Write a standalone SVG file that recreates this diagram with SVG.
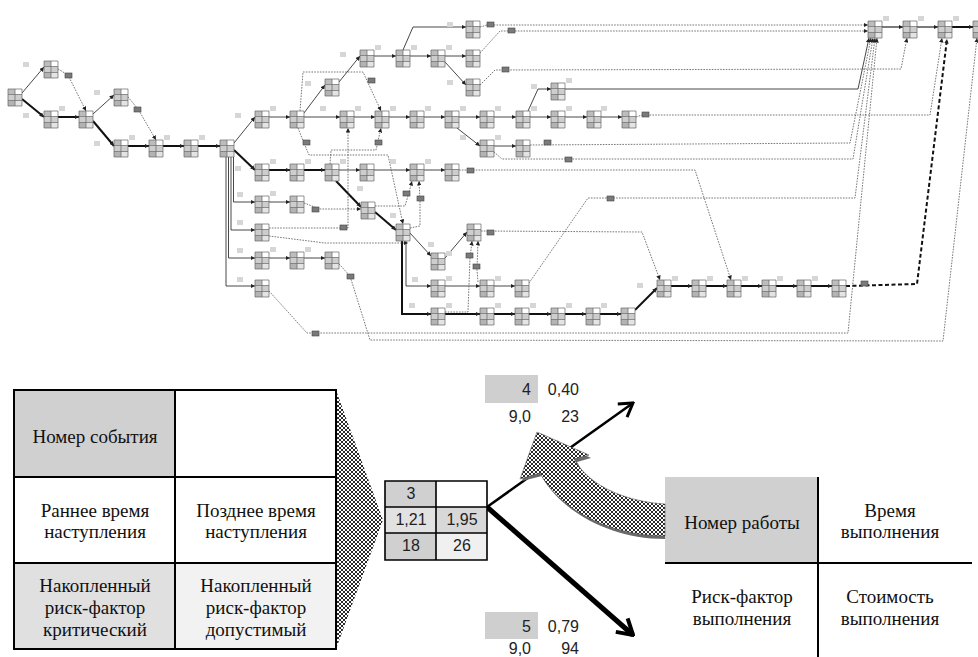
<svg xmlns="http://www.w3.org/2000/svg" xmlns:xlink="http://www.w3.org/1999/xlink" width="978" height="657" viewBox="0 0 978 657">
<style>
.t{fill:none;stroke:#333;stroke-width:0.9;marker-end:url(#a)}
.k{fill:none;stroke:#111;stroke-width:2;marker-end:url(#a)}
.d{fill:none;stroke:#555;stroke-width:0.8;stroke-dasharray:1.6 1.2;marker-end:url(#a)}
.kd{fill:none;stroke:#111;stroke-width:2;stroke-dasharray:4 2.5;marker-end:url(#a)}
.db{fill:#7a7a7a;stroke:#444;stroke-width:0.6}
.lb{fill:#d6d6d6}
.sf{font-family:"Liberation Serif","Times New Roman",serif;font-size:19px;fill:#111;text-anchor:middle}
.sn{font-family:"Liberation Sans",Arial,sans-serif;font-size:16px;fill:#222}
.grid{fill:none;stroke:#000;stroke-width:2}
</style>
<defs>
<marker id="a" viewBox="0 0 6 6" refX="6" refY="3" markerWidth="4.5" markerHeight="4.5" markerUnits="userSpaceOnUse" orient="auto"><path d="M0,0 L6,3 L0,6 z" fill="#222"/></marker>
<marker id="v1" viewBox="-15 -10 17 20" refX="0" refY="0" markerWidth="17" markerHeight="20" markerUnits="userSpaceOnUse" orient="auto"><path d="M-13,-8 L0,0 L-13,8" fill="none" stroke="#000" stroke-width="3"/></marker>
<marker id="v2" viewBox="-17 -11 19 22" refX="0" refY="0" markerWidth="19" markerHeight="22" markerUnits="userSpaceOnUse" orient="auto"><path d="M-15,-9 L0,0 L-15,9" fill="none" stroke="#000" stroke-width="4"/></marker>
<pattern id="hatch" width="4" height="4" patternUnits="userSpaceOnUse"><rect width="4" height="4" fill="#fff"/><path d="M0,0 L4,4 M4,0 L0,4" stroke="#2a2a2a" stroke-width="1"/></pattern>
<symbol id="nd" viewBox="0 0 14 17" width="14" height="17" overflow="visible">
<rect x="0" y="0" width="7" height="5.5" fill="#bdbdbd"/>
<rect x="7" y="0" width="7" height="5.5" fill="#fff"/>
<rect x="0" y="5.5" width="14" height="6" fill="#cdcdcd"/>
<rect x="0" y="11.5" width="7" height="5.5" fill="#b3b3b3"/>
<rect x="7" y="11.5" width="7" height="5.5" fill="#e4e4e4"/>
<path d="M0,0 H14 V17 H0 Z M7,0 V17 M0,5.5 H14 M0,11.5 H14" fill="none" stroke="#666" stroke-width="0.7"/>
</symbol>
</defs>
<rect width="978" height="657" fill="#fff"/>

<g id="connectors">
<path class="t" d="M22,93 L44,67"/>
<path class="k" d="M22,99 L44,117"/>
<path class="k" d="M58,117 L79,117"/>
<path class="t" d="M93,114 L114,95"/>
<path class="k" d="M93,121 L114,146"/>
<path class="k" d="M128,146 L149,146"/>
<path class="k" d="M163,146 L184,146"/>
<path class="k" d="M198,146 L220,146"/>
<path class="t" d="M234,143 L255,117"/>
<path class="k" d="M234,150 L255,170"/>
<path class="t" d="M269,117 L290,117"/>
<path class="t" d="M304,113 L325,85"/>
<path class="t" d="M304,117 L340,117"/>
<path class="t" d="M339,82 L360,56"/>
<path class="t" d="M374,56 L396,56"/>
<path class="t" d="M410,56 L431,56"/>
<path class="t" d="M445,56 L466,56"/>
<path class="t" d="M403,50 L413,27 L466,27"/>
<path class="t" d="M445,62 L466,85"/>
<path class="t" d="M354,117 L375,117"/>
<path class="t" d="M389,117 L410,117"/>
<path class="t" d="M424,117 L445,117"/>
<path class="t" d="M459,117 L480,117"/>
<path class="t" d="M494,117 L516,117"/>
<path class="t" d="M530,117 L551,117"/>
<path class="t" d="M565,117 L587,117"/>
<path class="t" d="M601,117 L622,117"/>
<path class="t" d="M457,128 L480,146"/>
<path class="t" d="M494,146 L516,146"/>
<path class="t" d="M528,111 L538,89 L551,89"/>
<path class="t" d="M565,89 L858,89 L869,38"/>
<path class="k" d="M269,170 L290,170"/>
<path class="k" d="M304,170 L325,170"/>
<path class="t" d="M339,170 L360,170"/>
<path class="t" d="M374,170 L410,170"/>
<path class="t" d="M424,170 L445,170"/>
<path class="k" d="M336,181 L361,207"/>
<path class="k" d="M375,212 L396,230"/>
<path class="t" d="M410,233 L431,256"/>
<path class="t" d="M445,258 L467,232"/>
<path class="t" d="M406,241 L406,286 L431,286"/>
<path class="k" d="M402,241 L402,314 L431,314"/>
<path class="t" d="M445,286 L480,286"/>
<path class="t" d="M494,286 L515,286"/>
<path class="k" d="M445,314 L480,314"/>
<path class="k" d="M494,314 L515,314"/>
<path class="k" d="M529,314 L551,314"/>
<path class="k" d="M565,314 L586,314"/>
<path class="k" d="M600,314 L621,314"/>
<path class="k" d="M635,310 L657,288"/>
<path class="k" d="M671,286 L692,286"/>
<path class="k" d="M706,286 L727,286"/>
<path class="k" d="M741,286 L762,286"/>
<path class="k" d="M776,286 L797,286"/>
<path class="k" d="M811,286 L832,286"/>
<path class="t" d="M269,202 L290,202"/>
<path class="t" d="M269,258 L290,258"/>
<path class="t" d="M304,258 L325,258"/>
<path class="t" d="M226,157 L226,286 L255,286"/>
<path class="t" d="M228.5,157 L228.5,258 L255,258"/>
<path class="t" d="M231,157 L231,230 L255,230"/>
<path class="t" d="M233.5,157 L233.5,202 L255,202"/>
<path class="t" style="stroke-width:1.3" d="M882,27 L903,27"/>
<path class="t" style="stroke-width:1.3" d="M917,27 L938,27"/>
<path class="k" d="M952,27 L973,27"/>

<path class="d" d="M58,69 L68,75 L86,111"/>
<path class="d" d="M128,97 L138,109 L156,140"/>
<path class="d" d="M300,111 L303,72 L363,72 L381,111"/>
<path class="d" d="M298,128 L304,143 L309,155 L388,155 L403,224"/>
<path class="d" d="M330,164 L331,150 L376,150 L381,128"/>
<path class="d" d="M269,228 L348,228 L348,128"/>
<path class="d" d="M304,203 L320,209 L361,209"/>
<path class="d" d="M375,206 L405,206 L408,196 L412,181"/>
<path class="d" d="M410,228 L420,226 L420,200 L419,181"/>
<path class="d" d="M459,170 L695,170 L731,280"/>
<path class="d" d="M530,145 L850,143 L871,38"/>
<path class="d" d="M494,152 L502,159 L853,159 L873,38"/>
<path class="d" d="M480,27 L487,25 L868,25"/>
<path class="d" d="M480,53 L500,31 L868,31"/>
<path class="d" d="M480,85 L495,70 L901,69 L907,38"/>
<path class="d" d="M636,117 L642,115 L930,115 L942,38"/>
<path class="d" d="M529,283 L588,198 L855,198 L875,38"/>
<path class="d" d="M481,231 L642,232 L660,280"/>
<path class="d" d="M269,291 L307,333 L848,333 L877,38"/>
<path class="d" d="M339,264 L350,276 L370,340 L943,341 L977,38"/>
<path class="d" d="M269,236 L325,243 L408,243"/>
<path class="d" d="M445,312 L468,312 L470,258 L472,241"/>
<path class="d" d="M478,282 L477,270 L478,241"/>
<path class="kd" d="M846,286 L917,284 L947,39"/>
</g>

<g id="dummies">
<rect class="db" x="65" y="73" width="7" height="5"/>
<rect class="db" x="134" y="107" width="7" height="5"/>
<rect class="db" x="368" y="78" width="7" height="5"/>
<rect class="db" x="303" y="140" width="7" height="5"/>
<rect class="db" x="375" y="140" width="7" height="5"/>
<rect class="db" x="340" y="225" width="7" height="5"/>
<rect class="db" x="312" y="207" width="7" height="5"/>
<rect class="db" x="403" y="191" width="7" height="5"/>
<rect class="db" x="417" y="196" width="7" height="5"/>
<rect class="db" x="467" y="168" width="7" height="5"/>
<rect class="db" x="544" y="140" width="7" height="5"/>
<rect class="db" x="565" y="157" width="7" height="5"/>
<rect class="db" x="487" y="22" width="7" height="5"/>
<rect class="db" x="508" y="28" width="7" height="5"/>
<rect class="db" x="502" y="67" width="7" height="5"/>
<rect class="db" x="642" y="112" width="7" height="5"/>
<rect class="db" x="607" y="196" width="7" height="5"/>
<rect class="db" x="487" y="230" width="7" height="5"/>
<rect class="db" x="312" y="331" width="7" height="5"/>
<rect class="db" x="347" y="274" width="7" height="5"/>
<rect class="db" x="466" y="253" width="7" height="5"/>
<rect class="db" x="473" y="264" width="7" height="5"/>
<rect class="db" x="861" y="281" width="7" height="5"/>
</g>

<g id="work-labels">
<rect class="lb" x="23" y="62" width="6" height="5"/><rect class="lb" x="23" y="113" width="6" height="5"/>
<rect class="lb" x="59" y="106" width="6" height="5"/><rect class="lb" x="94" y="90" width="6" height="5"/>
<rect class="lb" x="94" y="141" width="6" height="5"/><rect class="lb" x="129" y="135" width="6" height="5"/>
<rect class="lb" x="164" y="135" width="6" height="5"/><rect class="lb" x="199" y="135" width="6" height="5"/>
<rect class="lb" x="235" y="113" width="6" height="5"/><rect class="lb" x="235" y="166" width="6" height="5"/>
<rect class="lb" x="270" y="106" width="6" height="5"/><rect class="lb" x="305" y="81" width="6" height="5"/>
<rect class="lb" x="320" y="106" width="6" height="5"/><rect class="lb" x="340" y="52" width="6" height="5"/>
<rect class="lb" x="375" y="45" width="6" height="5"/><rect class="lb" x="411" y="45" width="6" height="5"/>
<rect class="lb" x="446" y="45" width="6" height="5"/><rect class="lb" x="447" y="22" width="6" height="5"/>
<rect class="lb" x="447" y="80" width="6" height="5"/><rect class="lb" x="355" y="106" width="6" height="5"/>
<rect class="lb" x="390" y="106" width="6" height="5"/><rect class="lb" x="425" y="106" width="6" height="5"/>
<rect class="lb" x="460" y="106" width="6" height="5"/><rect class="lb" x="495" y="106" width="6" height="5"/>
<rect class="lb" x="531" y="84" width="6" height="5"/><rect class="lb" x="531" y="106" width="6" height="5"/>
<rect class="lb" x="566" y="106" width="6" height="5"/><rect class="lb" x="601" y="106" width="6" height="5"/>
<rect class="lb" x="566" y="78" width="6" height="5"/><rect class="lb" x="460" y="135" width="6" height="5"/>
<rect class="lb" x="495" y="135" width="6" height="5"/><rect class="lb" x="270" y="159" width="6" height="5"/>
<rect class="lb" x="305" y="159" width="6" height="5"/><rect class="lb" x="340" y="159" width="6" height="5"/>
<rect class="lb" x="390" y="159" width="6" height="5"/><rect class="lb" x="425" y="159" width="6" height="5"/>
<rect class="lb" x="270" y="191" width="6" height="5"/><rect class="lb" x="357" y="186" width="6" height="5"/>
<rect class="lb" x="390" y="213" width="6" height="5"/><rect class="lb" x="428" y="242" width="6" height="5"/>
<rect class="lb" x="446" y="251" width="6" height="5"/><rect class="lb" x="237" y="192" width="6" height="5"/>
<rect class="lb" x="237" y="220" width="6" height="5"/><rect class="lb" x="237" y="248" width="6" height="5"/>
<rect class="lb" x="237" y="277" width="6" height="5"/><rect class="lb" x="270" y="247" width="6" height="5"/>
<rect class="lb" x="305" y="247" width="6" height="5"/><rect class="lb" x="412" y="277" width="6" height="5"/>
<rect class="lb" x="446" y="276" width="6" height="5"/><rect class="lb" x="495" y="276" width="6" height="5"/>
<rect class="lb" x="409" y="303" width="6" height="5"/><rect class="lb" x="446" y="303" width="6" height="5"/>
<rect class="lb" x="495" y="303" width="6" height="5"/><rect class="lb" x="530" y="303" width="6" height="5"/>
<rect class="lb" x="566" y="303" width="6" height="5"/><rect class="lb" x="601" y="303" width="6" height="5"/>
<rect class="lb" x="637" y="283" width="6" height="5"/><rect class="lb" x="672" y="276" width="6" height="5"/>
<rect class="lb" x="707" y="276" width="6" height="5"/><rect class="lb" x="742" y="276" width="6" height="5"/>
<rect class="lb" x="777" y="276" width="6" height="5"/><rect class="lb" x="812" y="276" width="6" height="5"/>
<rect class="lb" x="883" y="16" width="6" height="5"/><rect class="lb" x="918" y="16" width="6" height="5"/>
<rect class="lb" x="953" y="16" width="6" height="5"/>
</g>

<g id="n1"><use href="#nd" x="8" y="89"/></g>
<g id="n2"><use href="#nd" x="44" y="61"/></g>
<g id="n3"><use href="#nd" x="44" y="111"/></g>
<g id="n4"><use href="#nd" x="79" y="111"/></g>
<g id="n5"><use href="#nd" x="114" y="89"/></g>
<g id="n6"><use href="#nd" x="114" y="140"/></g>
<g id="n7"><use href="#nd" x="149" y="140"/></g>
<g id="n8"><use href="#nd" x="184" y="140"/></g>
<g id="n9"><use href="#nd" x="220" y="140"/></g>
<g id="n10"><use href="#nd" x="255" y="111"/></g>
<g id="n11"><use href="#nd" x="290" y="111"/></g>
<g id="n12"><use href="#nd" x="325" y="79"/></g>
<g id="n13"><use href="#nd" x="360" y="50"/></g>
<g id="n14"><use href="#nd" x="396" y="50"/></g>
<g id="n15"><use href="#nd" x="431" y="50"/></g>
<g id="n16"><use href="#nd" x="466" y="50"/></g>
<g id="n17"><use href="#nd" x="466" y="21"/></g>
<g id="n18"><use href="#nd" x="466" y="79"/></g>
<g id="n19"><use href="#nd" x="340" y="111"/></g>
<g id="n20"><use href="#nd" x="375" y="111"/></g>
<g id="n21"><use href="#nd" x="410" y="111"/></g>
<g id="n22"><use href="#nd" x="445" y="111"/></g>
<g id="n23"><use href="#nd" x="480" y="111"/></g>
<g id="n24"><use href="#nd" x="516" y="111"/></g>
<g id="n25"><use href="#nd" x="551" y="83"/></g>
<g id="n26"><use href="#nd" x="551" y="111"/></g>
<g id="n27"><use href="#nd" x="587" y="111"/></g>
<g id="n28"><use href="#nd" x="622" y="111"/></g>
<g id="n29"><use href="#nd" x="480" y="140"/></g>
<g id="n30"><use href="#nd" x="516" y="140"/></g>
<g id="n31"><use href="#nd" x="255" y="164"/></g>
<g id="n32"><use href="#nd" x="290" y="164"/></g>
<g id="n33"><use href="#nd" x="325" y="164"/></g>
<g id="n34"><use href="#nd" x="360" y="164"/></g>
<g id="n35"><use href="#nd" x="410" y="164"/></g>
<g id="n36"><use href="#nd" x="445" y="164"/></g>
<g id="n37"><use href="#nd" x="255" y="196"/></g>
<g id="n38"><use href="#nd" x="290" y="196"/></g>
<g id="n39"><use href="#nd" x="361" y="202"/></g>
<g id="n40"><use href="#nd" x="255" y="224"/></g>
<g id="n41"><use href="#nd" x="396" y="224"/></g>
<g id="n42"><use href="#nd" x="467" y="224"/></g>
<g id="n43"><use href="#nd" x="255" y="252"/></g>
<g id="n44"><use href="#nd" x="290" y="252"/></g>
<g id="n45"><use href="#nd" x="325" y="252"/></g>
<g id="n46"><use href="#nd" x="431" y="253"/></g>
<g id="n47"><use href="#nd" x="255" y="280"/></g>
<g id="n48"><use href="#nd" x="431" y="280"/></g>
<g id="n49"><use href="#nd" x="480" y="280"/></g>
<g id="n50"><use href="#nd" x="515" y="280"/></g>
<g id="n51"><use href="#nd" x="431" y="308"/></g>
<g id="n52"><use href="#nd" x="480" y="308"/></g>
<g id="n53"><use href="#nd" x="515" y="308"/></g>
<g id="n54"><use href="#nd" x="551" y="308"/></g>
<g id="n55"><use href="#nd" x="586" y="308"/></g>
<g id="n56"><use href="#nd" x="621" y="308"/></g>
<g id="n57"><use href="#nd" x="657" y="280"/></g>
<g id="n58"><use href="#nd" x="692" y="280"/></g>
<g id="n59"><use href="#nd" x="727" y="280"/></g>
<g id="n60"><use href="#nd" x="762" y="280"/></g>
<g id="n61"><use href="#nd" x="797" y="280"/></g>
<g id="n62"><use href="#nd" x="832" y="280"/></g>
<g id="n63"><use href="#nd" x="868" y="21"/></g>
<g id="n64"><use href="#nd" x="903" y="21"/></g>
<g id="n65"><use href="#nd" x="938" y="21"/></g>
<g id="n66"><use href="#nd" x="973" y="21"/></g>

<g id="legend-event">
<polygon points="336,390 383,520 336,649" fill="url(#hatch)"/>
<rect x="14" y="390" width="161" height="87" fill="#d0d0d0"/>
<rect x="175" y="390" width="161" height="87" fill="#fff"/>
<rect x="14" y="477" width="322" height="86" fill="#fff"/>
<rect x="14" y="563" width="161" height="86" fill="#e0e0e0"/>
<rect x="175" y="563" width="161" height="86" fill="#f2f2f2"/>
<path class="grid" d="M14,390 H336 V649 H14 Z M175,390 V649 M14,477 H336 M14,563 H336"/>
<text class="sf" x="95" y="443">Номер события</text>
<text class="sf" x="95" y="517">Раннее время</text>
<text class="sf" x="95" y="538">наступления</text>
<text class="sf" x="256" y="517">Позднее время</text>
<text class="sf" x="256" y="538">наступления</text>
<text class="sf" x="95" y="592">Накопленный</text>
<text class="sf" x="95" y="614">риск-фактор</text>
<text class="sf" x="95" y="636">критический</text>
<text class="sf" x="256" y="592">Накопленный</text>
<text class="sf" x="256" y="614">риск-фактор</text>
<text class="sf" x="256" y="636">допустимый</text>
</g>

<g id="legend-connectors">
<line x1="487" y1="507" x2="633" y2="403" stroke="#000" stroke-width="2.5" marker-end="url(#v1)"/>
<line x1="487" y1="507" x2="633" y2="635" stroke="#000" stroke-width="5" marker-end="url(#v2)"/>
</g>

<g id="legend-node">
<rect x="385" y="481" width="51" height="26" fill="#d0d0d0"/>
<rect x="436" y="481" width="51" height="26" fill="#fff"/>
<rect x="385" y="507" width="51" height="26" fill="#e2e2e2"/>
<rect x="436" y="507" width="51" height="26" fill="#d8d8d8"/>
<rect x="385" y="533" width="51" height="27" fill="#d0d0d0"/>
<rect x="436" y="533" width="51" height="27" fill="#f0f0f0"/>
<path d="M385,481 H487 V560 H385 Z M436,481 V560 M385,507 H487 M385,533 H487" fill="none" stroke="#000" stroke-width="1.6"/>
<text class="sn" x="411" y="499" text-anchor="middle">3</text>
<text class="sn" x="411" y="525" text-anchor="middle">1,21</text>
<text class="sn" x="462" y="525" text-anchor="middle">1,95</text>
<text class="sn" x="411" y="551" text-anchor="middle">18</text>
<text class="sn" x="462" y="551" text-anchor="middle">26</text>
</g>

<g id="label-work4">
<rect x="485" y="375" width="53" height="28" fill="#cfcfcf"/>
<text class="sn" x="531" y="395" text-anchor="end">4</text>
<text class="sn" x="579" y="395" text-anchor="end">0,40</text>
<text class="sn" x="531" y="422" text-anchor="end">9,0</text>
<text class="sn" x="579" y="422" text-anchor="end">23</text>
</g>

<g id="label-work5">
<rect x="485" y="612" width="53" height="27" fill="#cfcfcf"/>
<text class="sn" x="531" y="632" text-anchor="end">5</text>
<text class="sn" x="579" y="632" text-anchor="end">0,79</text>
<text class="sn" x="531" y="654" text-anchor="end">9,0</text>
<text class="sn" x="579" y="654" text-anchor="end">94</text>
</g>

<g id="legend-work">
<rect x="665" y="477" width="153" height="86" fill="#d0d0d0"/>
<path d="M818,477 V657 M665,563 H972" fill="none" stroke="#000" stroke-width="2"/>
<text class="sf" x="742" y="529">Номер работы</text>
<text class="sf" x="890" y="517">Время</text>
<text class="sf" x="890" y="538">выполнения</text>
<text class="sf" x="742" y="603">Риск-фактор</text>
<text class="sf" x="742" y="625">выполнения</text>
<text class="sf" x="890" y="603">Стоимость</text>
<text class="sf" x="890" y="625">выполнения</text>
</g>

<g id="curved-arrow">
<path d="M665,507 C628,505 592,492 577,462 L591,458 L539,433 L522,481 L542,476 C558,508 607,539 665,539 Z" fill="#6a6a6a"/>
<path d="M665,504 C630,502 590,488 574,459 L589,455 L537,432 L520,479 L540,473 C556,505 605,536 665,536 Z" fill="url(#hatch)" stroke="#555" stroke-width="0.6"/>
</g>
</svg>
